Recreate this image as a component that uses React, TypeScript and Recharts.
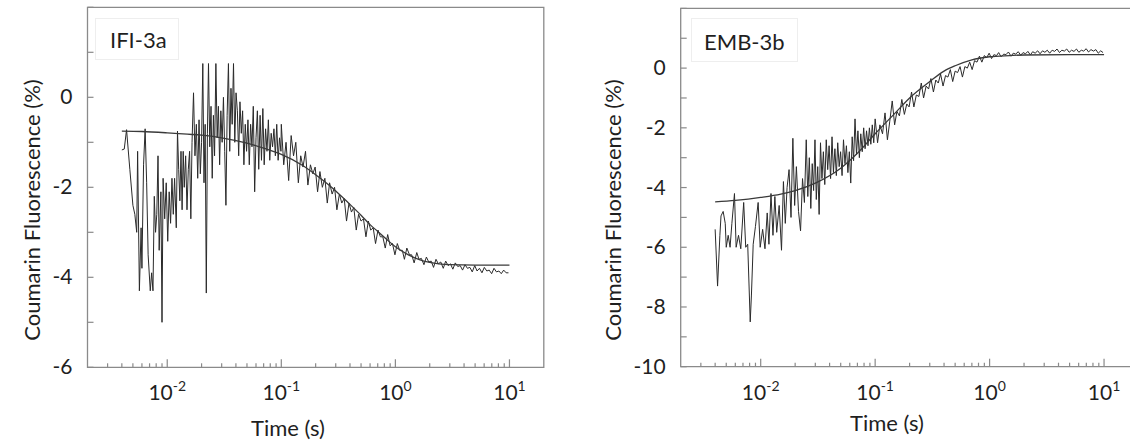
import React from "react";
import { LineChart, Line, XAxis, YAxis, ReferenceArea } from "recharts";

// time axis ticks (log scale), majors get 10^n labels
const timeTicks = [
  0.003, 0.004, 0.005, 0.006, 0.007, 0.008, 0.009, 0.01,
  0.02, 0.03, 0.04, 0.05, 0.06, 0.07, 0.08, 0.09, 0.1,
  0.2, 0.3, 0.4, 0.5, 0.6, 0.7, 0.8, 0.9, 1,
  2, 3, 4, 5, 6, 7, 8, 9, 10,
];
const ifiValueTicks = [-6, -5, -4, -3, -2, -1, 0, 1, 2];
const embValueTicks = [-10, -9, -8, -7, -6, -5, -4, -3, -2, -1, 0, 1, 2];

// IFI-3a: measured trace [time s, fluorescence %]
const ifiTrace: [number, number][] = [
  [0.004, -1.17], [0.0042, -1.15], [0.0044, -0.72], [0.0047, -1.6], [0.005, -2.4],
  [0.0052, -2.6], [0.0054, -3.0], [0.0055, -1.2], [0.0057, -4.3], [0.0059, -2.9],
  [0.006, -3.8], [0.0062, -1.5], [0.0064, -0.7], [0.0066, -1.9], [0.0068, -3.5],
  [0.0071, -4.3], [0.0073, -3.9], [0.0075, -4.3], [0.0077, -2.2], [0.0079, -3.0],
  [0.0081, -2.6], [0.0083, -1.3], [0.0085, -3.4], [0.0088, -2.1], [0.009, -5.0],
  [0.0092, -1.8], [0.0095, -2.7], [0.0098, -1.9], [0.0101, -3.2], [0.0104, -2.1],
  [0.0107, -2.8], [0.011, -1.8], [0.0113, -2.6], [0.0116, -1.8], [0.012, -2.9],
  [0.0123, -0.75], [0.0126, -1.6], [0.0129, -2.3], [0.0132, -1.2], [0.0135, -2.5],
  [0.0138, -1.2], [0.0141, -2.0], [0.0145, -1.3], [0.0149, -2.5], [0.0153, -1.6],
  [0.0157, -1.2], [0.0161, -2.7], [0.0165, -1.0], [0.017, 0.1], [0.0175, -1.3],
  [0.018, -0.6], [0.0185, -1.8], [0.019, -0.5], [0.0195, -1.7], [0.02, -1.0],
  [0.0205, 0.75], [0.021, -1.9], [0.0215, -0.6], [0.022, -4.35], [0.0225, -0.8],
  [0.023, 0.75], [0.0236, -1.1], [0.0242, -0.2], [0.0248, -1.8], [0.0254, -0.4],
  [0.026, -1.3], [0.0267, 0.75], [0.0274, -0.9], [0.0281, -0.2], [0.0288, -1.5],
  [0.0295, -0.3], [0.0303, -1.0], [0.0311, 0.0], [0.0319, -1.2], [0.0327, -2.4],
  [0.0335, -0.4], [0.0344, 0.75], [0.0353, -1.2], [0.0362, 0.2], [0.0371, -0.6],
  [0.0381, 0.75], [0.0391, -1.0], [0.0401, 0.1], [0.0412, -0.3], [0.0423, -1.3],
  [0.0434, -0.1], [0.0446, -0.8], [0.0458, -0.3], [0.047, -1.5], [0.0483, -0.6],
  [0.0496, -1.2], [0.051, -0.5], [0.0524, -1.5], [0.0538, -0.6], [0.0553, -1.1],
  [0.0568, -0.2], [0.0584, -2.1], [0.06, -0.9], [0.0617, -0.3], [0.0634, -1.6],
  [0.0652, -0.4], [0.067, -1.4], [0.0689, -0.25], [0.0708, -1.5], [0.0728, -0.7],
  [0.0749, -1.2], [0.077, -0.5], [0.0792, -1.4], [0.0815, -0.8], [0.0838, -1.1],
  [0.0862, -0.7], [0.0887, -1.3], [0.0912, -0.6], [0.0938, -1.4], [0.0965, -0.9],
  [0.0993, -1.2],
  [0.1, -0.6], [0.105, -1.5], [0.11, -1.0], [0.116, -1.85], [0.122, -0.85],
  [0.128, -1.3], [0.134, -1.0], [0.141, -1.9], [0.148, -1.3], [0.155, -1.55],
  [0.163, -1.2], [0.171, -1.95], [0.18, -1.5], [0.189, -1.7], [0.198, -1.55],
  [0.208, -2.1], [0.218, -1.65], [0.229, -2.0], [0.241, -1.8], [0.253, -2.35],
  [0.265, -1.9], [0.279, -2.15], [0.293, -2.0], [0.307, -2.5], [0.323, -2.15],
  [0.339, -2.35], [0.356, -2.25], [0.373, -2.75], [0.392, -2.35], [0.412, -2.55],
  [0.432, -2.45], [0.454, -2.95], [0.476, -2.6], [0.5, -2.75], [0.525, -2.7],
  [0.552, -3.1], [0.579, -2.75], [0.608, -2.95], [0.639, -2.9], [0.67, -3.25],
  [0.704, -2.95], [0.739, -3.1], [0.776, -3.1], [0.815, -3.35], [0.856, -3.05],
  [0.899, -3.3], [0.943, -3.25], [0.991, -3.5], [1.04, -3.25], [1.09, -3.4],
  [1.15, -3.4], [1.2, -3.6], [1.26, -3.35], [1.33, -3.5], [1.39, -3.5],
  [1.46, -3.68], [1.54, -3.45], [1.61, -3.6], [1.69, -3.58], [1.78, -3.72],
  [1.87, -3.55], [1.96, -3.66], [2.06, -3.64], [2.16, -3.78], [2.27, -3.6],
  [2.38, -3.7], [2.5, -3.66], [2.63, -3.8], [2.76, -3.64], [2.9, -3.74],
  [3.04, -3.7], [3.19, -3.82], [3.35, -3.68], [3.52, -3.76], [3.7, -3.74],
  [3.88, -3.84], [4.08, -3.72], [4.28, -3.8], [4.5, -3.78], [4.72, -3.88],
  [4.96, -3.74], [5.2, -3.86], [5.46, -3.8], [5.74, -3.9], [6.02, -3.78],
  [6.33, -3.86], [6.64, -3.84], [6.98, -3.92], [7.32, -3.8], [7.69, -3.88],
  [8.08, -3.86], [8.48, -3.92], [8.9, -3.84], [9.35, -3.9], [9.8, -3.9],
];

// IFI-3a: fitted curve
const ifiFit: [number, number][] = [
  [0.004, -0.75], [0.006, -0.76], [0.01, -0.79], [0.015, -0.82], [0.02, -0.84],
  [0.03, -0.9], [0.05, -1.02], [0.07, -1.13], [0.1, -1.27], [0.15, -1.5],
  [0.2, -1.72], [0.25, -1.91], [0.3, -2.08], [0.4, -2.38], [0.5, -2.62],
  [0.6, -2.83], [0.7, -2.98], [0.85, -3.17], [1, -3.32], [1.3, -3.5],
  [1.6, -3.6], [2, -3.67], [3, -3.72], [5, -3.73], [10, -3.73],
];

// EMB-3b: measured trace
const embTrace: [number, number][] = [
  [0.004, -5.4], [0.0042, -7.3], [0.0044, -5.6], [0.0045, -4.95], [0.0047, -4.8],
  [0.0049, -5.2], [0.005, -6.0], [0.0052, -5.6], [0.0054, -6.0], [0.0056, -5.2],
  [0.0059, -4.2], [0.0061, -6.0], [0.0064, -5.6], [0.0067, -6.05], [0.0071, -4.5],
  [0.0074, -6.0], [0.0077, -5.9], [0.0081, -8.5], [0.0083, -7.6], [0.0086, -5.9],
  [0.009, -5.3], [0.0095, -4.5], [0.0099, -6.0], [0.0104, -5.4], [0.0109, -6.05],
  [0.0114, -4.85], [0.0118, -5.9], [0.0123, -4.2], [0.0128, -5.6], [0.0133, -4.3],
  [0.0138, -5.5], [0.0145, -4.6], [0.0152, -6.1], [0.0158, -3.8], [0.0164, -5.2],
  [0.017, -4.0], [0.0177, -3.4], [0.0184, -5.0], [0.0191, -2.35], [0.0198, -4.6],
  [0.0205, -3.3], [0.0214, -4.8], [0.0223, -5.45], [0.0232, -3.7], [0.0241, -4.5],
  [0.025, -2.4], [0.0258, -4.3], [0.0266, -3.0], [0.0274, -4.7], [0.0282, -3.2],
  [0.029, -4.1], [0.0298, -2.4], [0.0306, -4.4], [0.0315, -3.3], [0.0324, -4.9],
  [0.0333, -2.5], [0.0343, -3.7], [0.0353, -2.8], [0.0363, -3.9], [0.0374, -2.4],
  [0.0385, -3.4], [0.0396, -2.6], [0.0408, -3.7], [0.042, -2.3], [0.0432, -3.5],
  [0.0445, -2.7], [0.0458, -3.6], [0.0471, -2.5], [0.0485, -3.3], [0.0499, -2.8],
  [0.0514, -3.6], [0.0529, -2.4], [0.0545, -3.2], [0.0561, -2.6], [0.0578, -3.5],
  [0.0595, -2.8], [0.0612, -3.85], [0.063, -2.3], [0.0648, -3.1], [0.0667, -1.7],
  [0.0687, -2.9], [0.0707, -2.1], [0.0728, -3.0], [0.0749, -2.2], [0.0771, -2.8],
  [0.0794, -2.0], [0.0817, -2.7], [0.0841, -2.1], [0.0866, -2.6], [0.0891, -2.0],
  [0.0917, -2.55], [0.0944, -1.9], [0.0972, -2.5],
  [0.1, -1.7], [0.105, -2.5], [0.11, -1.9], [0.116, -2.2], [0.122, -1.5],
  [0.128, -2.4], [0.134, -1.8], [0.141, -1.1], [0.148, -1.9], [0.155, -1.45],
  [0.163, -1.6], [0.171, -1.05], [0.18, -1.55], [0.189, -1.2], [0.198, -1.3],
  [0.208, -0.8], [0.218, -1.3], [0.229, -0.9], [0.241, -0.95], [0.253, -0.5],
  [0.265, -1.0], [0.279, -0.6], [0.293, -0.7], [0.307, -0.35], [0.323, -0.8],
  [0.339, -0.4], [0.356, -0.5], [0.373, -0.2], [0.392, -0.6], [0.412, -0.25],
  [0.432, -0.3], [0.454, -0.05], [0.476, -0.45], [0.5, -0.1], [0.525, -0.15],
  [0.552, 0.05], [0.579, -0.3], [0.608, 0.05], [0.639, 0.0], [0.67, 0.2],
  [0.704, -0.05], [0.739, 0.25], [0.776, 0.2], [0.815, 0.4], [0.856, 0.2],
  [0.899, 0.42], [0.943, 0.35], [0.991, 0.5], [1.04, 0.32], [1.09, 0.45],
  [1.15, 0.42], [1.2, 0.52], [1.26, 0.38], [1.33, 0.47], [1.39, 0.45],
  [1.46, 0.54], [1.54, 0.4], [1.61, 0.5], [1.69, 0.47], [1.78, 0.55],
  [1.87, 0.43], [1.96, 0.52], [2.06, 0.48], [2.16, 0.56], [2.27, 0.44],
  [2.38, 0.55], [2.5, 0.5], [2.63, 0.58], [2.76, 0.48], [2.9, 0.58],
  [3.04, 0.53], [3.19, 0.6], [3.35, 0.5], [3.52, 0.6], [3.7, 0.56],
  [3.88, 0.64], [4.08, 0.52], [4.28, 0.6], [4.5, 0.57], [4.72, 0.64],
  [4.96, 0.53], [5.2, 0.6], [5.46, 0.56], [5.74, 0.64], [6.02, 0.53],
  [6.33, 0.6], [6.64, 0.57], [6.98, 0.65], [7.32, 0.54], [7.69, 0.62],
  [8.08, 0.57], [8.48, 0.62], [8.9, 0.5], [9.35, 0.58], [9.8, 0.52],
];

// EMB-3b: fitted curve
const embFit: [number, number][] = [
  [0.004, -4.48], [0.006, -4.43], [0.01, -4.33], [0.015, -4.22], [0.02, -4.1],
  [0.03, -3.85], [0.05, -3.35], [0.07, -2.85], [0.1, -2.2], [0.15, -1.5],
  [0.2, -1.0], [0.3, -0.45], [0.4, -0.1], [0.5, 0.08], [0.7, 0.28],
  [1, 0.38], [1.5, 0.42], [2, 0.44], [5, 0.45], [10, 0.45],
];

const AXIS = "#8a8a8a";
const INK = "#1f1f1f";
const FONT = "Lato, 'Open Sans', sans-serif";

const toRows = (pts: [number, number][]) => pts.map(([t, v]) => ({ t, v }));

const TimeTick = ({ x, y, payload }: any) => {
  const exp = Math.log10(payload.value);
  const major = Math.abs(exp - Math.round(exp)) < 1e-6;
  return (
    <g>
      <line x1={x} x2={x} y1={y} y2={y - (major ? 8 : 4)} stroke={AXIS} strokeWidth={1.2} />
      {major && (
        <text x={x} y={y + 33} textAnchor="middle" fontSize={21} fontFamily={FONT} fill={INK}>
          10
          <tspan dy={-9} fontSize={14}>{Math.round(exp)}</tspan>
        </text>
      )}
    </g>
  );
};

const ValueTick = ({ x, y, payload }: any) => {
  const v = payload.value;
  return (
    <g>
      <line x1={x} x2={x + 6} y1={y} y2={y} stroke={AXIS} strokeWidth={1.2} />
      {v % 2 === 0 && v < 2 && (
        <text x={x - 15} y={y + 7} textAnchor="end" fontSize={21} fontFamily={FONT} fill={INK}>
          {v}
        </text>
      )}
    </g>
  );
};

interface PanelProps {
  trace: [number, number][];
  fit: [number, number][];
  yDomain: [number, number];
  yTicks: number[];
  width: number;
  margin: { top: number; right: number; bottom: number; left: number };
}

const Panel = ({ trace, fit, yDomain, yTicks, width, margin }: PanelProps) => (
  <LineChart width={width} height={446} margin={margin}>
    <ReferenceArea
      x1={0.002}
      x2={20}
      y1={yDomain[0]}
      y2={yDomain[1]}
      fill="none"
      fillOpacity={0}
      stroke={AXIS}
      strokeWidth={1.3}
      ifOverflow="visible"
    />
    <XAxis
      dataKey="t"
      type="number"
      scale="log"
      domain={[0.002, 20]}
      allowDataOverflow
      ticks={timeTicks}
      interval={0}
      axisLine={false}
      tickLine={false}
      tickSize={0}
      tickMargin={0}
      height={40}
      tick={<TimeTick />}
    />
    <YAxis
      type="number"
      domain={yDomain}
      allowDataOverflow
      ticks={yTicks}
      interval={0}
      axisLine={false}
      tickLine={false}
      tickSize={0}
      tickMargin={0}
      width={60}
      tick={<ValueTick />}
    />
    <Line
      data={toRows(trace)}
      dataKey="v"
      type="linear"
      stroke="#2a2a2a"
      strokeWidth={1}
      dot={false}
      isAnimationActive={false}
    />
    <Line
      data={toRows(fit)}
      dataKey="v"
      type="monotone"
      stroke="#3a3a3a"
      strokeWidth={1.3}
      dot={false}
      isAnimationActive={false}
    />
  </LineChart>
);

const textStyle: React.CSSProperties = {
  position: "absolute",
  fontFamily: FONT,
  color: INK,
  fontSize: 22,
  whiteSpace: "nowrap",
  lineHeight: 1,
};

export default function App() {
  return (
    <div
      style={{
        position: "absolute",
        left: 0,
        top: 0,
        width: 1130,
        height: 446,
        overflow: "hidden",
        background: "#fff",
      }}
    >
      {/* faint label boxes as in the source figure */}
      <div style={{ position: "absolute", left: 95, top: 18, width: 82, height: 40, border: "1px solid #eeeeee" }} />
      <div style={{ position: "absolute", left: 691, top: 18, width: 105, height: 42, border: "1px solid #eeeeee" }} />

      <div style={{ position: "absolute", left: 0, top: 0 }}>
        <Panel
          trace={ifiTrace}
          fit={ifiFit}
          yDomain={[-6, 2]}
          yTicks={ifiValueTicks}
          width={560}
          margin={{ top: 7.3, right: 16.2, bottom: 38.7, left: 27.5 }}
        />
      </div>
      <div style={{ position: "absolute", left: 560, top: 0 }}>
        <Panel
          trace={embTrace}
          fit={embFit}
          yDomain={[-10, 2]}
          yTicks={embValueTicks}
          width={600}
          margin={{ top: 8.4, right: 21.5, bottom: 39.3, left: 60.7 }}
        />
      </div>

      <div style={{ ...textStyle, left: 110, top: 29 }}>IFI-3a</div>
      <div style={{ ...textStyle, left: 704, top: 31 }}>EMB-3b</div>

      <div style={{ ...textStyle, left: 288, top: 428, transform: "translate(-50%, -50%)" }}>Time (s)</div>
      <div style={{ ...textStyle, left: 887, top: 423, transform: "translate(-50%, -50%)" }}>Time (s)</div>

      <div style={{ ...textStyle, left: 32, top: 210, transform: "translate(-50%, -50%) rotate(-90deg)" }}>
        Coumarin Fluorescence (%)
      </div>
      <div style={{ ...textStyle, left: 613, top: 210, transform: "translate(-50%, -50%) rotate(-90deg)" }}>
        Coumarin Fluorescence (%)
      </div>
    </div>
  );
}
